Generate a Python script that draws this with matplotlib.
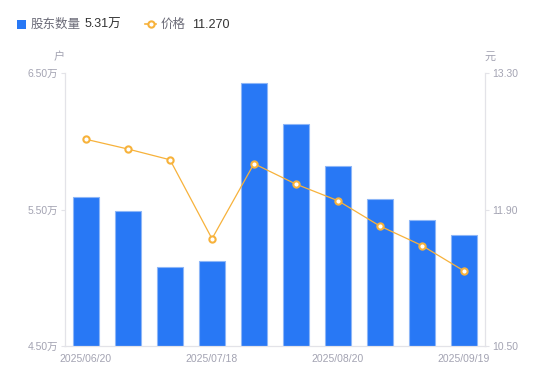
import numpy as np
import matplotlib.pyplot as plt
from matplotlib.lines import Line2D
from matplotlib.patches import Rectangle

plt.rcParams['font.family'] = ['Liberation Sans', 'Noto Sans CJK SC', 'DejaVu Sans']

# Data
dates = ['2025/06/20', '', '', '2025/07/18', '', '', '2025/08/20', '', '', '2025/09/19']
holders = [5.59, 5.49, 5.08, 5.12, 6.43, 6.13, 5.82, 5.58, 5.42, 5.31]  # 万户
price = [12.62, 12.52, 12.41, 11.60, 12.37, 12.16, 11.99, 11.73, 11.53, 11.27]  # 元
left_ticks = [4.50, 5.50, 6.50]
right_ticks = [10.50, 11.90, 13.30]

bar_color = '#2878F5'
bar_edge = '#8DB6F7'
line_color = '#F7B23B'
axis_color = '#E3E3E8'
tick_color = '#A3A3B2'

fig = plt.figure(figsize=(5.5, 3.81), dpi=100)
ax = fig.add_axes([65 / 550, 35 / 381, 420 / 550, 273 / 381])
x = np.arange(len(holders))

ax.bar(x, holders, width=0.6, color=bar_color, edgecolor=bar_edge, linewidth=0.8, zorder=2)
ax.set_xlim(-0.5, len(holders) - 0.5)
ax.set_ylim(left_ticks[0], left_ticks[-1])
ax.set_yticks(left_ticks)
ax.set_yticklabels(['%.2f万' % v for v in left_ticks])
ax.set_xticks(x)
ax.set_xticklabels(dates)
ax.tick_params(axis='x', length=0, pad=6, labelsize=7.5, colors=tick_color)
ax.tick_params(axis='y', length=3, width=0.8, color=axis_color, pad=2, labelsize=7.5, labelcolor=tick_color)

ax2 = ax.twinx()
ax2.plot(x, price, color=line_color, lw=0.9, marker='o', ms=4.5, mfc='white',
         mec=line_color, mew=1.5, zorder=3)
ax2.set_ylim(right_ticks[0], right_ticks[-1])
ax2.set_yticks(right_ticks)
ax2.set_yticklabels(['%.2f' % v for v in right_ticks])
ax2.tick_params(axis='y', length=3, width=0.8, color=axis_color, pad=2, labelsize=7.5, labelcolor=tick_color)

for a in (ax, ax2):
    a.spines['top'].set_visible(False)
    for s in ('left', 'right', 'bottom'):
        a.spines[s].set_color(axis_color)
        a.spines[s].set_linewidth(0.8)

# axis units
fig.text(59 / 550, 1 - 57 / 381, '户', fontsize=8, color=tick_color, ha='center', va='center')
fig.text(490 / 550, 1 - 57 / 381, '元', fontsize=8, color=tick_color, ha='center', va='center')

# legend
fig.patches.append(Rectangle((17 / 550, 1 - 29 / 381), 9 / 550, 9 / 381, transform=fig.transFigure,
                             facecolor=bar_color, edgecolor='none'))
fig.text(31 / 550, 1 - 25 / 381, '股东数量', fontsize=9, color='#6B6B78', va='center')
fig.text(85 / 550, 1 - 25 / 381, '%.2f万' % holders[-1], fontsize=9, color='#333333', va='center')
fig.lines.append(Line2D([145 / 550, 156 / 550], [1 - 24 / 381, 1 - 24 / 381], transform=fig.transFigure,
                        color=line_color, lw=1.2))
fig.lines.append(Line2D([150.5 / 550], [1 - 24 / 381], transform=fig.transFigure, color=line_color,
                        marker='o', ms=4.5, mfc='white', mec=line_color, mew=1.5, lw=0))
fig.text(161 / 550, 1 - 25 / 381, '价格', fontsize=9, color='#6B6B78', va='center')
fig.text(192 / 550, 1 - 25 / 381, '%.3f' % price[-1], fontsize=9, color='#333333', va='center')

fig.savefig('out.png', dpi=100)
